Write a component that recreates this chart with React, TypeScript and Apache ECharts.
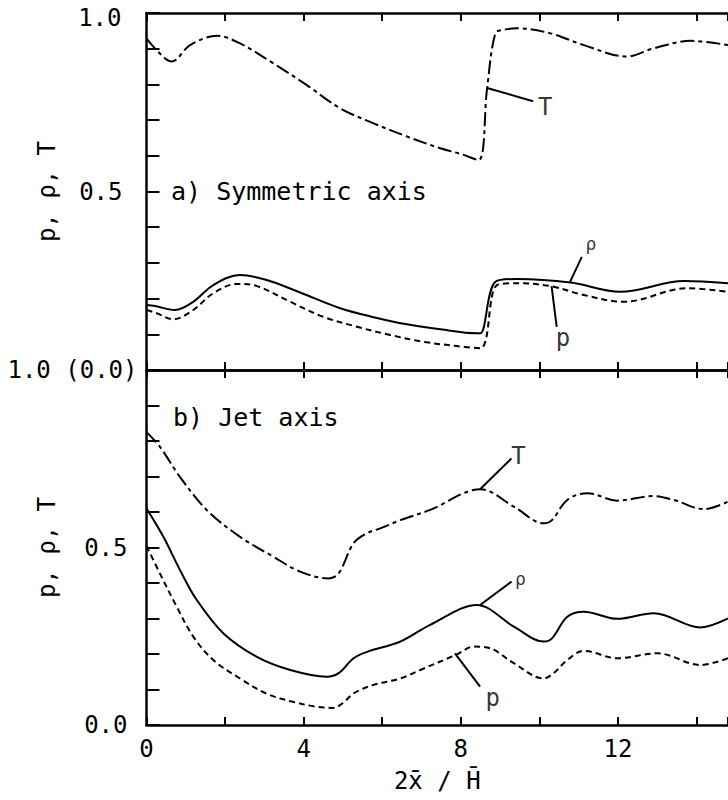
import React, { useEffect, useRef } from 'react';
import * as echarts from 'echarts';

// ---- Data ----
// Panel a) Symmetric axis
const symTX = [0, 0.3, 0.64, 1.11, 1.79, 2.38, 3.23, 4.08, 4.93, 5.78, 6.63, 7.48, 8.0, 8.45, 8.67, 8.88, 9.1, 9.43, 10.28, 11.13, 12.23, 12.91, 13.85, 14.8];
const symTV = [0.929, 0.891, 0.864, 0.91, 0.936, 0.915, 0.859, 0.798, 0.733, 0.691, 0.654, 0.621, 0.605, 0.588, 0.79, 0.943, 0.953, 0.957, 0.943, 0.91, 0.878, 0.901, 0.922, 0.91];
const symRhoX = [0, 0.22, 0.73, 1.19, 1.7, 2.38, 3.06, 3.91, 4.93, 5.78, 6.63, 7.48, 8.41, 8.5, 8.88, 9.43, 10.79, 12.06, 13.68, 14.8];
const symRhoV = [0.182, 0.179, 0.168, 0.191, 0.238, 0.266, 0.252, 0.217, 0.173, 0.148, 0.128, 0.114, 0.103, 0.103, 0.247, 0.255, 0.245, 0.219, 0.249, 0.243];
const symPX = [0, 0.26, 0.68, 1.19, 1.7, 2.3, 2.81, 3.66, 4.5, 5.36, 6.2, 7.05, 7.9, 8.5, 8.92, 9.43, 10.28, 11.13, 12.15, 13.76, 14.8];
const symPV = [0.168, 0.159, 0.142, 0.168, 0.215, 0.241, 0.235, 0.191, 0.149, 0.121, 0.098, 0.079, 0.067, 0.061, 0.238, 0.243, 0.235, 0.21, 0.191, 0.229, 0.219];

// Panel b) Jet axis
const jetTX = [0, 0.34, 0.85, 1.53, 2.38, 3.23, 3.91, 4.63, 4.89, 5.27, 5.61, 5.95, 6.46, 7.22, 8.5, 9.35, 10.11, 10.32, 10.71, 11.22, 11.98, 12.91, 13.42, 14.19, 14.8];
const jetTV = [0.825, 0.784, 0.699, 0.606, 0.53, 0.474, 0.432, 0.413, 0.427, 0.512, 0.54, 0.554, 0.577, 0.606, 0.664, 0.615, 0.568, 0.577, 0.634, 0.653, 0.632, 0.645, 0.634, 0.608, 0.629];
const jetRhoX = [0, 0.43, 0.85, 1.28, 1.96, 2.81, 3.66, 4.59, 4.89, 5.27, 5.61, 6.46, 7.22, 8.41, 9.35, 10.11, 10.32, 10.71, 11.13, 11.98, 12.91, 14.1, 14.8];
const jetRhoV = [0.61, 0.53, 0.437, 0.352, 0.258, 0.192, 0.155, 0.136, 0.146, 0.188, 0.206, 0.235, 0.282, 0.338, 0.277, 0.235, 0.244, 0.305, 0.319, 0.299, 0.315, 0.275, 0.3];
const jetPX = [0, 0.34, 0.77, 1.19, 1.7, 2.38, 3.06, 3.7, 4.3, 4.75, 5.0, 5.27, 5.78, 6.46, 6.97, 7.9, 8.33, 8.75, 9.35, 10.11, 10.36, 10.71, 11.13, 11.98, 13.0, 14.1, 14.8];
const jetPV = [0.505, 0.427, 0.333, 0.249, 0.183, 0.131, 0.088, 0.066, 0.052, 0.048, 0.062, 0.089, 0.113, 0.131, 0.155, 0.199, 0.221, 0.216, 0.174, 0.131, 0.146, 0.183, 0.209, 0.188, 0.202, 0.169, 0.188];

// Curve annotations: leader lines [x1, y1, x2, y2] and label points [x, y]
const symLeaders = [
  [8.67, 0.79, 9.84, 0.753],
  [10.78, 0.247, 11.08, 0.317],
  [10.31, 0.235, 10.44, 0.121],
];
const symLabels = ['T', 'ρ', 'p'];
const symLabelPos = [[10.15, 0.737], [11.31, 0.353], [10.6, 0.09]];
const jetLeaders = [
  [8.49, 0.664, 9.29, 0.751],
  [8.49, 0.338, 9.29, 0.404],
  [7.85, 0.202, 8.49, 0.108],
];
const jetLabels = ['T', 'ρ', 'p'];
const jetLabelPos = [[9.47, 0.758], [9.52, 0.414], [8.81, 0.076]];

const xMin = 0;
const xMax = 14.8;
const xStep = 2;
const xLabelled = [0, 4, 8, 12];
const yStep = 0.1;

const FONT = '"DejaVu Sans Mono", "Liberation Mono", monospace';
const zip = (xs: number[], ys: number[]) => xs.map((x, i) => [x, ys[i]]);
const near = (a: number, b: number) => Math.abs(a - b) < 1e-6;

export default function App() {
  const ref = useRef<HTMLDivElement>(null);
  useEffect(() => {
    if (!ref.current) return;
    const chart = echarts.init(ref.current, null, { renderer: 'svg' });
    const axisLine = { show: true, onZero: false, lineStyle: { color: '#000', width: 2.5 } };
    const xBase = (gridIndex: number, position: string, showLabel: boolean) => ({
      type: 'value',
      gridIndex,
      position,
      min: xMin,
      max: xMax,
      interval: xStep,
      axisLine,
      splitLine: { show: false },
      axisTick: { show: true, inside: true, length: 8, lineStyle: { color: '#000', width: 2 } },
      axisLabel: {
        show: showLabel,
        margin: 12,
        fontSize: 24,
        fontFamily: FONT,
        color: '#000',
        formatter: (v: number) => (xLabelled.some((l) => near(l, v)) ? String(Math.round(v)) : ''),
      },
    });
    const yBase = (gridIndex: number, fmt: (v: number) => string) => ({
      type: 'value',
      gridIndex,
      min: 0,
      max: 1,
      interval: yStep,
      axisLine,
      splitLine: { show: false },
      axisTick: { show: true, inside: true, length: 13, lineStyle: { color: '#000', width: 2 } },
      name: 'p, ρ, T',
      nameLocation: 'middle',
      nameRotate: 90,
      nameGap: 88,
      nameMoveOverlap: false,
      nameTextStyle: { fontSize: 24, fontFamily: FONT, color: '#000' },
      axisLabel: {
        show: true,
        margin: 9,
        fontSize: 24,
        fontFamily: FONT,
        color: '#000',
        formatter: fmt,
        rich: {
          top: { fontSize: 24, fontFamily: FONT, color: '#000', padding: [10, 16, 0, 0] },
          n: { fontSize: 24, fontFamily: FONT, color: '#000', padding: [0, 15, 0, 0] },
          b: { fontSize: 24, fontFamily: FONT, color: '#000', padding: [0, 10, 0, 0] },
        },
      },
    });
    const curve = (data: number[][], xi: number, yi: number, type: any) => ({
      type: 'line',
      xAxisIndex: xi,
      yAxisIndex: yi,
      data,
      smooth: 0.35,
      showSymbol: false,
      symbol: 'none',
      silent: true,
      lineStyle: { color: '#000', width: 2, type },
    });
    const leader = (l: number[], xi: number, yi: number) => ({
      type: 'line',
      xAxisIndex: xi,
      yAxisIndex: yi,
      data: [[l[0], l[1]], [l[2], l[3]]],
      symbol: 'none',
      silent: true,
      lineStyle: { color: '#000', width: 2, type: 'solid' },
    });
    const label = (p: number[], text: string, xi: number, yi: number) => ({
      type: 'scatter',
      xAxisIndex: xi,
      yAxisIndex: yi,
      data: [p],
      symbolSize: 0,
      silent: true,
      label: {
        show: true,
        position: 'inside',
        formatter: text,
        fontSize: text === 'ρ' ? 18 : 24,
        fontFamily: FONT,
        color: '#000',
      },
    });
    const dashDot = [14, 4, 4, 4];
    const dash = [6, 4];
    chart.setOption({
      animation: false,
      backgroundColor: '#fff',
      grid: [
        { left: 146.5, right: 0, top: 13, height: 357, outerBoundsMode: 'none', containLabel: false },
        { left: 146.5, right: 0, top: 370, height: 355, outerBoundsMode: 'none', containLabel: false },
      ],
      xAxis: [
        xBase(0, 'top', false),
        xBase(0, 'bottom', false),
        xBase(1, 'top', false),
        {
          ...xBase(1, 'bottom', true),
          name: '2x̄ / H̄',
          nameLocation: 'middle',
          nameGap: 44,
          nameMoveOverlap: false,
          nameTextStyle: { fontSize: 24, fontFamily: FONT, color: '#000' },
        },
      ],
      yAxis: [
        yBase(0, (v: number) => (near(v, 1) ? '{top|1.0}' : near(v, 0.5) ? '{n|0.5}' : near(v, 0) ? '1.0 (0.0)' : '')),
        yBase(1, (v: number) => (near(v, 0.5) ? '{b|0.5}' : near(v, 0) ? '{b|0.0}' : '')),
      ],
      graphic: [
        {
          type: 'text',
          left: 171,
          top: 179,
          style: { text: 'a) Symmetric axis', fontSize: 25, fontFamily: FONT, fill: '#000' },
        },
        {
          type: 'text',
          left: 173,
          top: 405,
          style: { text: 'b) Jet axis', fontSize: 25, fontFamily: FONT, fill: '#000' },
        },
      ],
      series: [
        curve(zip(symTX, symTV), 1, 0, dashDot),
        curve(zip(symRhoX, symRhoV), 1, 0, 'solid'),
        curve(zip(symPX, symPV), 1, 0, dash),
        curve(zip(jetTX, jetTV), 3, 1, dashDot),
        curve(zip(jetRhoX, jetRhoV), 3, 1, 'solid'),
        curve(zip(jetPX, jetPV), 3, 1, dash),
        ...symLeaders.map((l) => leader(l, 1, 0)),
        ...jetLeaders.map((l) => leader(l, 3, 1)),
        ...symLabelPos.map((p, i) => label(p, symLabels[i], 1, 0)),
        ...jetLabelPos.map((p, i) => label(p, jetLabels[i], 3, 1)),
      ],
    });
    return () => chart.dispose();
  }, []);
  return (
    <div
      ref={ref}
      style={{ position: 'fixed', left: 0, top: 0, width: 728, height: 800, background: '#fff' }}
    />
  );
}
